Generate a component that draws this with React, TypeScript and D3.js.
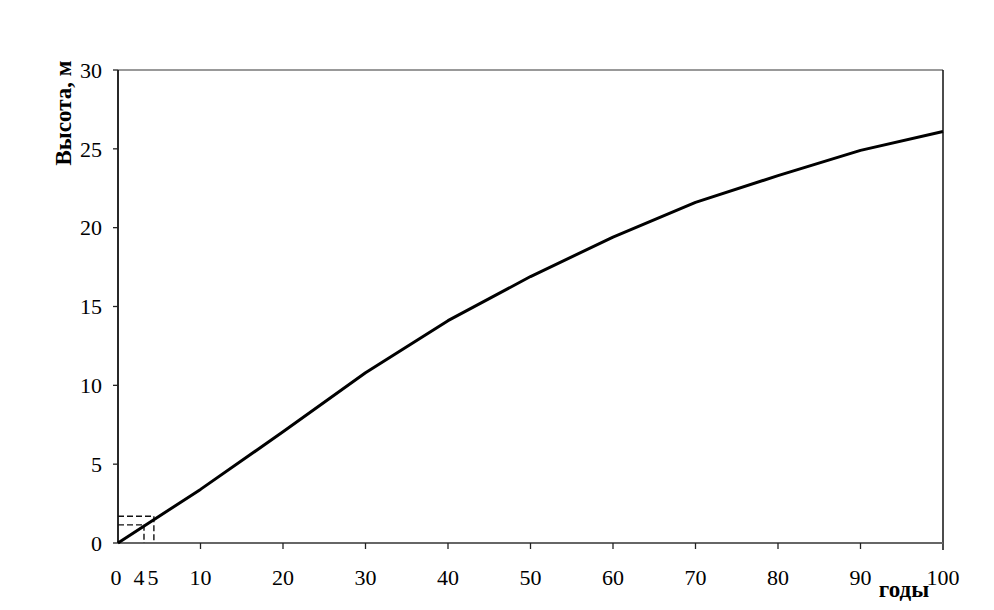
import React from "react";
import * as d3 from "d3";

const years = [0, 10, 20, 30, 40, 50, 60, 70, 80, 90, 100];
const heights = [0, 3.4, 7.05, 10.8, 14.1, 16.9, 19.4, 21.6, 23.3, 24.9, 26.1];
const xTicks = [0, 10, 20, 30, 40, 50, 60, 70, 80, 90, 100];
const yTicks = [0, 5, 10, 15, 20, 25, 30];
const guideYears = [3.15, 4.35];
const guideHeights = [1.15, 1.7];
const guideLabels = ["4", "5"];

export default function App() {
  const W = 994, H = 610;
  const x = d3.scaleLinear().domain([0, 100]).range([118, 943]);
  const y = d3.scaleLinear().domain([0, 30]).range([543, 70]);
  const line = d3.line<number>().x((_, i) => x(years[i])).y((d) => y(d));
  const font = "'Liberation Serif', 'Times New Roman', serif";
  return (
    <svg width={W} height={H} style={{ position: "absolute", left: 0, top: 0, background: "#fff" }}>
      {/* frame */}
      <line x1={x(0)} x2={x(100)} y1={y(30)} y2={y(30)} stroke="#777" strokeWidth={1.5} />
      <line x1={x(100)} x2={x(100)} y1={y(30)} y2={y(0) + 7} stroke="#111" strokeWidth={1.5} />
      <line x1={x(0)} x2={x(100)} y1={y(0)} y2={y(0)} stroke="#666" strokeWidth={2} />
      <line x1={x(0)} x2={x(0)} y1={y(30)} y2={y(0)} stroke="#111" strokeWidth={1.8} />
      {/* y ticks */}
      {yTicks.map((t) => (
        <g key={"y" + t}>
          <line x1={x(0) - 5} x2={x(0)} y1={y(t)} y2={y(t)} stroke="#222" strokeWidth={1.3} />
          <text x={102} y={y(t)} dy="0.35em" textAnchor="end" fontFamily={font} fontSize={22} fill="#000">
            {t}
          </text>
        </g>
      ))}
      {/* x ticks */}
      {xTicks.map((t) => (
        <g key={"x" + t}>
          {t > 0 && t < 100 && (
            <line x1={x(t)} x2={x(t)} y1={y(0)} y2={y(0) + 6} stroke="#222" strokeWidth={1.3} />
          )}
          <text x={x(t) + (t === 0 ? -2 : 0)} y={585} textAnchor="middle" fontFamily={font} fontSize={22} fill="#000">
            {t}
          </text>
        </g>
      ))}
      {/* guide dashed lines */}
      {guideYears.map((g, i) => (
        <g key={"g" + i}>
          <line x1={x(0)} x2={x(g)} y1={y(guideHeights[i])} y2={y(guideHeights[i])} stroke="#111" strokeWidth={1.4} strokeDasharray="6,3" />
          <line x1={x(g)} x2={x(g)} y1={y(guideHeights[i])} y2={y(0)} stroke="#111" strokeWidth={1.4} strokeDasharray="6,3" />
          <text x={x(g) + (i === 0 ? -5 : -1)} y={585} textAnchor="middle" fontFamily={font} fontSize={22} fill="#000">
            {guideLabels[i]}
          </text>
        </g>
      ))}
      {/* data line */}
      <path d={line(heights) || ""} fill="none" stroke="#000" strokeWidth={3} strokeLinejoin="round" />
      {/* axis titles */}
      <text transform={`translate(71,113) rotate(-90)`} textAnchor="middle" fontFamily={font} fontSize={23} fontWeight="bold" fill="#000">
        Высота, м
      </text>
      <text x={904} y={597} textAnchor="middle" fontFamily={font} fontSize={23} fontWeight="bold" fill="#000">
        годы
      </text>
    </svg>
  );
}
